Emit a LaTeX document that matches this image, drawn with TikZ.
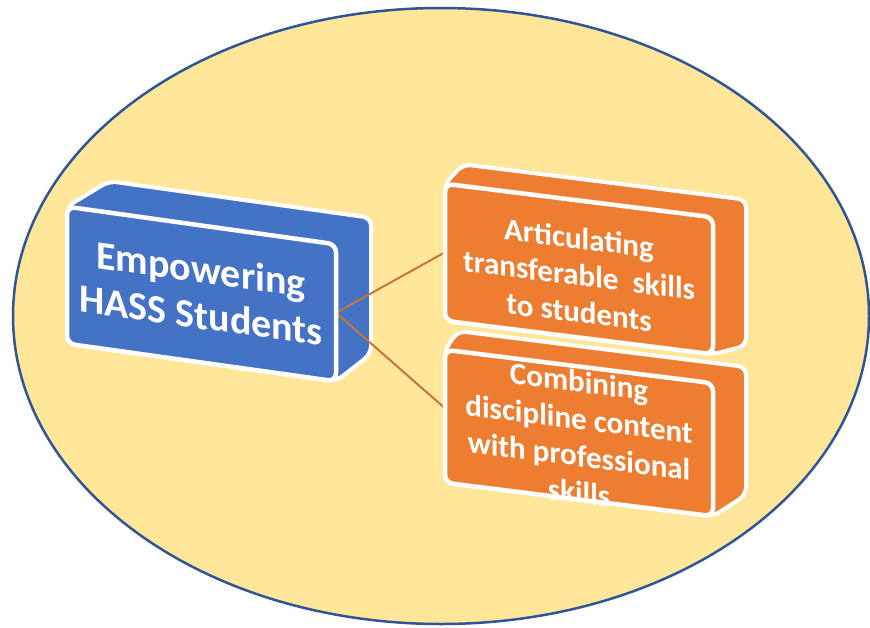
\documentclass[tikz,border=0pt]{standalone}
\usepackage{fontspec}
\newfontfamily\calfont{Carlito}
\definecolor{ellfill}{HTML}{FFE699}
\definecolor{ellline}{HTML}{2F5597}
\definecolor{boxblue}{HTML}{4472C4}
\definecolor{boxorange}{HTML}{ED7D31}
\definecolor{connline}{HTML}{C5763A}
\pgfdeclarelayer{bg}
\pgfdeclarelayer{mid}
\pgfsetlayers{bg,mid,main}
\begin{document}
\begin{tikzpicture}[x=1pt,y=-1pt,
  face/.style={draw=white,line width=4.5pt,rounded corners=8pt,inner sep=0pt,outer sep=0pt},
  ghost/.style={inner sep=0pt,outer sep=0pt},
  hull/.style={draw=white,line width=4pt,rounded corners=8pt,line join=round},
  bigtxt/.style={text=white,align=center,inner sep=0pt,font=\calfont\bfseries\fontsize{40}{46}\selectfont},
  smalltxt/.style={text=white,align=center,inner sep=0pt,font=\calfont\bfseries\fontsize{31}{37}\selectfont},
  conn/.style={draw=connline,line width=2pt}]
\useasboundingbox (0,0) rectangle (870,627);

% ---- geometry of the blocks
\path node[ghost,minimum width=262pt,minimum height=136pt,yslant=-0.14] (empB) at (240,267.5) {};
\node[face,fill=boxblue,minimum width=269pt,minimum height=137pt,yslant=-0.14] (emp) at (201.5,294) {};

\path node[ghost,minimum width=288pt,minimum height=128pt,yslant=-0.125] (combB) at (602,413) {};
\node[face,fill=boxorange,minimum width=268pt,minimum height=133pt,yslant=-0.125] (comb) at (579,433) {};

\path node[ghost,minimum width=283pt,minimum height=146pt,yslant=-0.125] (artB) at (604.5,255) {};
\node[face,fill=boxorange,minimum width=268pt,minimum height=137pt,yslant=-0.125] (art) at (579,269) {};

% ---- background ellipse and block bodies
\begin{pgfonlayer}{bg}
  \draw[draw=ellline,fill=ellfill,line width=2.5pt] (441,316) ellipse [x radius=428, y radius=308];
  \draw[hull,fill=boxblue] (emp.north west) -- (empB.north west) -- (empB.north east)
     -- (empB.south east) -- (emp.south east) -- (emp.south west) -- cycle;
  \draw[hull,fill=boxorange] (comb.north west) -- (combB.north west) -- (combB.north east)
     -- (combB.south east) -- (comb.south east) -- (comb.south west) -- cycle;
  \draw[hull,fill=boxorange] (art.north west) -- (artB.north west) -- (artB.north east)
     -- (artB.south east) -- (art.south east) -- (art.south west) -- cycle;
\end{pgfonlayer}

% ---- connectors
\begin{pgfonlayer}{mid}
  \draw[conn] (emp.east) -- (art.west);
  \draw[conn] (emp.east) -- ([yshift=8pt]comb.west);
\end{pgfonlayer}

% ---- texts
\node[bigtxt,yslant=-0.14] (empT) at (201,292) {Empowering\\HASS Students};
\node[smalltxt,yslant=-0.125] (artT) at (579,275) {Articulating\\transferable\ \ skills\\to students};
\node[smalltxt,yslant=-0.125] (combT) at (579,437) {Combining\\discipline content\\with professional\\skills};
\end{tikzpicture}
\end{document}
